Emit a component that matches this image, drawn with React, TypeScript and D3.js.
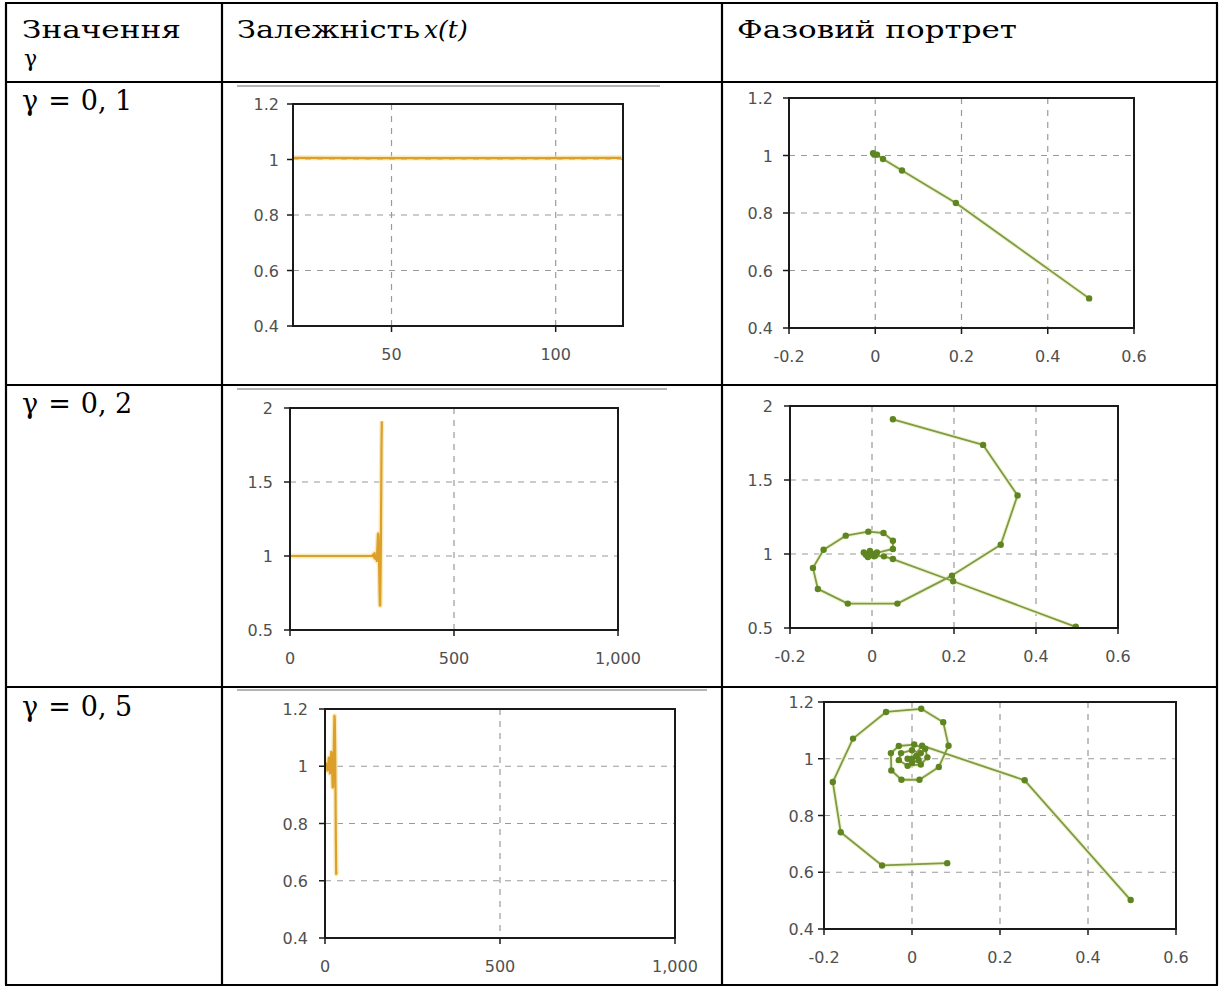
import React from "react";
import * as d3 from "d3";

// ---------- Table texts ----------
const headerCol1 = ["Значення", "γ"];
const headerCol2 = "Залежність";
const headerCol2Math = "x(t)";
const headerCol3 = "Фазовий портрет";
const gammaLabels = ["0, 1", "0, 2", "0, 5"];

// ---------- Row 1 (γ = 0,1) ----------
const xt1T = [20, 45, 70, 95, 120];
const xt1X = [1.006, 1.005, 1.005, 1.005, 1.006];
const xt1XTicks = [50, 100];
const xt1YTicks = [0.4, 0.6, 0.8, 1, 1.2];
const ph1X = [0.496, 0.187, 0.062, 0.018, 0.004, -0.005, -0.002];
const ph1Y = [0.503, 0.835, 0.948, 0.988, 1.003, 1.008, 1.003];

// ---------- Row 2 (γ = 0,2) ----------
const xt2T = [0, 250, 254, 256, 258, 260, 262, 264, 265, 266, 267, 268, 269, 270, 271, 272, 273, 274, 275, 276, 277, 278, 279, 280];
const xt2X = [1.0, 1.0, 1.01, 0.99, 1.02, 0.98, 1.0, 0.984, 0.966, 1.034, 1.09, 1.142, 1.151, 1.124, 1.029, 0.906, 0.764, 0.665, 0.665, 0.854, 1.063, 1.396, 1.737, 1.91];
const xt2XTicks = [0, 500, 1000];
const xt2YTicks = [0.5, 1, 1.5, 2];
const ph2X = [0.497, 0.198, 0.051, 0.029, 0.008, -0.015, -0.02, -0.005, 0.012, 0.005, -0.01, 0.0, 0.051, 0.051, 0.028, -0.009, -0.064, -0.118, -0.144, -0.132, -0.059, 0.062, 0.195, 0.314, 0.355, 0.271, 0.051];
const ph2Y = [0.508, 0.816, 0.966, 0.984, 0.99, 0.995, 1.01, 1.02, 1.01, 0.985, 0.98, 1.0, 1.034, 1.09, 1.142, 1.151, 1.124, 1.029, 0.906, 0.764, 0.665, 0.665, 0.854, 1.063, 1.396, 1.737, 1.91];

// ---------- Row 3 (γ = 0,5) ----------
const xt3T = [0, 3, 5, 7, 9, 10, 11, 12, 13, 14, 15, 16, 17, 18, 19, 20, 21, 22, 23, 24, 25, 26, 27, 28, 29, 30, 31, 32, 33];
const xt3X = [1.0, 1.01, 1.0, 0.985, 0.995, 1.02, 1.03, 1.02, 0.995, 0.975, 0.98, 1.005, 1.035, 1.05, 1.045, 1.02, 0.959, 0.926, 0.926, 0.971, 1.046, 1.129, 1.176, 1.165, 1.071, 0.918, 0.741, 0.624, 0.632];
const xt3XTicks = [0, 500, 1000];
const xt3YTicks = [0.4, 0.6, 0.8, 1, 1.2];
const ph3X = [0.497, 0.256, 0.023, 0.0, 0.01, -0.01, 0.0, 0.015, 0.02, 0.0, -0.025, -0.03, -0.01, 0.02, 0.035, 0.03, 0.005, -0.03, -0.048, -0.047, -0.024, 0.017, 0.061, 0.083, 0.071, 0.021, -0.059, -0.134, -0.18, -0.162, -0.068, 0.08];
const ph3Y = [0.502, 0.924, 1.046, 1.0, 1.01, 1.0, 0.985, 0.995, 1.02, 1.03, 1.02, 0.995, 0.975, 0.98, 1.005, 1.035, 1.05, 1.045, 1.02, 0.959, 0.926, 0.926, 0.971, 1.046, 1.129, 1.176, 1.165, 1.071, 0.918, 0.741, 0.624, 0.632];

const phXTicks = [-0.2, 0, 0.2, 0.4, 0.6];
const phYTicks1 = [0.4, 0.6, 0.8, 1, 1.2];
const phYTicks2 = [0.5, 1, 1.5, 2];

const fmtComma = d3.format(",");
const fmtPlain = (v: number) => String(v);

type ChartProps = {
  box: [number, number, number, number]; // left, top, right, bottom
  xDomain: [number, number];
  yDomain: [number, number];
  xTicks: number[];
  yTicks: number[];
  xFmt: (v: number) => string;
  xs: number[];
  ys: number[];
  kind: "time" | "phase";
  yLabelGap?: number;
};

const tickFont = "Verdana, 'DejaVu Sans', sans-serif";

function Chart({ box, xDomain, yDomain, xTicks, yTicks, xFmt, xs, ys, kind, yLabelGap = 14 }: ChartProps) {
  const [l, t, r, b] = box;
  const x = d3.scaleLinear().domain(xDomain).range([l, r]);
  const y = d3.scaleLinear().domain(yDomain).range([b, t]);
  const pts: [number, number][] = xs.map((v, i) => [v, ys[i]]);
  const line = d3.line<[number, number]>().x((d) => x(d[0])).y((d) => y(d[1]));
  const path = line(pts) || "";
  const clipId = `clip-${l}-${t}`;
  const interiorX = xTicks.filter((v) => x(v) > l + 2 && x(v) < r - 2);
  const interiorY = yTicks.filter((v) => y(v) > t + 2 && y(v) < b - 2);
  return (
    <g>
      <defs>
        <clipPath id={clipId}>
          <rect x={l} y={t} width={r - l} height={b - t} />
        </clipPath>
      </defs>
      <rect x={l} y={t} width={r - l} height={b - t} fill="#ffffff" />
      {interiorX.map((v) => (
        <line key={"gx" + v} x1={x(v)} x2={x(v)} y1={t} y2={b} stroke="#9a9a9a" strokeWidth={1.2} strokeDasharray="6,6" />
      ))}
      {interiorY.map((v) => (
        <line key={"gy" + v} x1={l} x2={r} y1={y(v)} y2={y(v)} stroke="#9a9a9a" strokeWidth={1.2} strokeDasharray="6,6" />
      ))}
      <g clipPath={`url(#${clipId})`}>
        {kind === "time" ? (
          <>
            <path d={path} fill="none" stroke="#f6e3a0" strokeWidth={5} strokeOpacity={0.7} strokeLinejoin="round" />
            <path d={path} fill="none" stroke="#dca02a" strokeWidth={2.2} strokeLinejoin="round" />
          </>
        ) : (
          <>
            <path d={path} fill="none" stroke="#eef4cc" strokeWidth={4} strokeLinejoin="round" />
            <path d={path} fill="none" stroke="#7f9a48" strokeWidth={1.8} strokeLinejoin="round" />
            {pts.map((d, i) => (
              <circle key={i} cx={x(d[0])} cy={y(d[1])} r={3.2} fill="#5f8521" />
            ))}
          </>
        )}
      </g>
      <rect x={l} y={t} width={r - l} height={b - t} fill="none" stroke="#1a1a1a" strokeWidth={2} />
      {xTicks.map((v) => (
        <g key={"tx" + v}>
          <line x1={x(v)} x2={x(v)} y1={b} y2={b + 6} stroke="#1a1a1a" strokeWidth={1.5} />
          <text x={x(v)} y={b + 34} textAnchor="middle" fontFamily={tickFont} fontSize={16} fill="#505050">
            {xFmt(v)}
          </text>
        </g>
      ))}
      {yTicks.map((v) => (
        <g key={"ty" + v}>
          <line x1={l - 6} x2={l} y1={y(v)} y2={y(v)} stroke="#1a1a1a" strokeWidth={1.5} />
          <text x={l - yLabelGap} y={y(v) + 6} textAnchor="end" fontFamily={tickFont} fontSize={16} fill="#505050">
            {fmtPlain(v)}
          </text>
        </g>
      ))}
    </g>
  );
}

export default function App() {
  const W = 1219;
  const H = 987;
  const colX = [6, 222, 722, 1217];
  const rowY = [3, 82, 385, 687, 985];
  const serif = "'DejaVu Serif', 'Liberation Serif', serif";
  const rowLabelY = [110, 413, 716];
  return (
    <svg width={W} height={H} style={{ position: "absolute", left: 0, top: 0, background: "#fff" }}>
      <rect x={0} y={0} width={W} height={H} fill="#ffffff" />
      {/* gray strips above time charts */}
      <line x1={237} x2={660} y1={86} y2={86} stroke="#b4b4b4" strokeWidth={2} />
      <line x1={237} x2={667} y1={389} y2={389} stroke="#b4b4b4" strokeWidth={2} />
      <line x1={237} x2={707} y1={690} y2={690} stroke="#b4b4b4" strokeWidth={2} />

      {/* Row 1 */}
      <Chart box={[293, 104, 623, 326]} xDomain={[20, 120.5]} yDomain={[0.4, 1.2]} xTicks={xt1XTicks} yTicks={xt1YTicks} xFmt={fmtComma} xs={xt1T} ys={xt1X} kind="time" />
      <Chart box={[789, 98, 1134, 328]} xDomain={[-0.2, 0.6]} yDomain={[0.4, 1.2]} xTicks={phXTicks} yTicks={phYTicks1} xFmt={fmtPlain} xs={ph1X} ys={ph1Y} kind="phase" yLabelGap={16} />

      {/* Row 2 */}
      <Chart box={[290, 408, 618, 630]} xDomain={[0, 1000]} yDomain={[0.5, 2]} xTicks={xt2XTicks} yTicks={xt2YTicks} xFmt={fmtComma} xs={xt2T} ys={xt2X} kind="time" yLabelGap={17} />
      <Chart box={[790, 406, 1118, 628]} xDomain={[-0.2, 0.6]} yDomain={[0.5, 2]} xTicks={phXTicks} yTicks={phYTicks2} xFmt={fmtPlain} xs={ph2X} ys={ph2Y} kind="phase" yLabelGap={17} />

      {/* Row 3 */}
      <Chart box={[325, 709, 675, 938]} xDomain={[0, 1000]} yDomain={[0.4, 1.2]} xTicks={xt3XTicks} yTicks={xt3YTicks} xFmt={fmtComma} xs={xt3T} ys={xt3X} kind="time" yLabelGap={17} />
      <Chart box={[824, 702, 1176, 929]} xDomain={[-0.2, 0.6]} yDomain={[0.4, 1.2]} xTicks={phXTicks} yTicks={phYTicks1} xFmt={fmtPlain} xs={ph3X} ys={ph3Y} kind="phase" yLabelGap={10} />

      {/* table lines */}
      {rowY.map((yy, i) => (
        <line key={"r" + i} x1={colX[0] - 1} x2={colX[3] + 1} y1={yy} y2={yy} stroke="#000" strokeWidth={2.2} />
      ))}
      {colX.map((xx, i) => (
        <line key={"c" + i} x1={xx} x2={xx} y1={rowY[0]} y2={rowY[4]} stroke="#000" strokeWidth={2.2} />
      ))}

      {/* header */}
      <text x={22} y={38} fontFamily={serif} fontSize={25} fill="#000" textLength={159} lengthAdjust="spacingAndGlyphs">{headerCol1[0]}</text>
      <text x={24} y={66} fontFamily={serif} fontSize={22} fill="#000">{headerCol1[1]}</text>
      <text x={237} y={38} fontFamily={serif} fontSize={25} fill="#000" textLength={183} lengthAdjust="spacingAndGlyphs">{headerCol2}</text>
      <text x={424} y={38} fontFamily={serif} fontSize={25} fontStyle="italic" fill="#000">{headerCol2Math}</text>
      <text x={737} y={38} fontFamily={serif} fontSize={25} fill="#000" textLength={280} lengthAdjust="spacingAndGlyphs">{headerCol3}</text>

      {/* row labels */}
      {gammaLabels.map((g, i) => (
        <text key={"g" + i} x={22} y={rowLabelY[i]} fontFamily={serif} fontSize={27} fill="#000">
          <tspan>γ</tspan>
          <tspan dx={10}>=</tspan>
          <tspan dx={10}>{g}</tspan>
        </text>
      ))}
    </svg>
  );
}
